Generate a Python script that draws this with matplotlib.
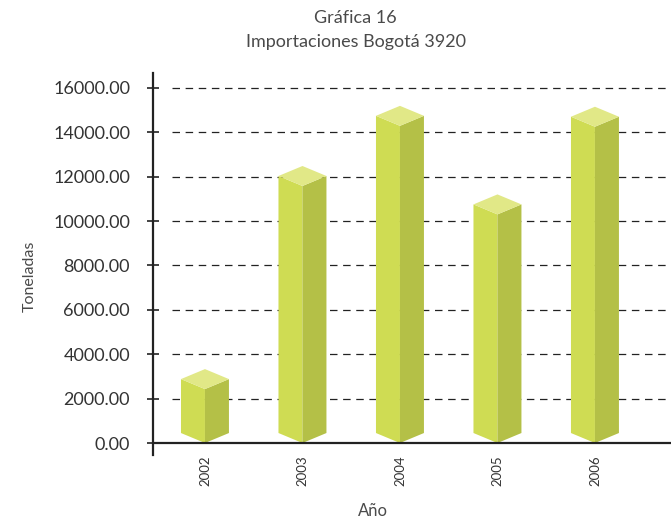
import matplotlib
matplotlib.use("Agg")
import matplotlib.pyplot as plt
from matplotlib.patches import Polygon
from matplotlib.ticker import FuncFormatter

# data (height of the front edge of each prism)
years = ["2002", "2003", "2004", "2005", "2006"]
toneladas = [2430, 11580, 14290, 10300, 14250]
yticks = [0, 2000, 4000, 6000, 8000, 10000, 12000, 14000, 16000]

c_left = "#cfdc53"
c_right = "#b4c047"
c_top = "#e1e887"
txt = "#333333"
lbl = "#4a4a4a"

plt.rcParams['font.family'] = ['Lato', 'DejaVu Sans']

fig = plt.figure(figsize=(6.71, 5.25), dpi=100)
ax = fig.add_axes([153/671, 70/525, 518/671, 382/525])

ax.set_xlim(-0.533, 4.78)
ax.set_ylim(-540, 16670)

hw = 0.246   # half width of a prism, in x units
dz = 450     # isometric offset, in y units
for i, v in enumerate(toneladas):
    left = Polygon([(i - hw, dz), (i, 0), (i, v), (i - hw, v + dz)],
                   closed=True, fc=c_left, ec="none", zorder=3)
    right = Polygon([(i, 0), (i + hw, dz), (i + hw, v + dz), (i, v)],
                    closed=True, fc=c_right, ec="none", zorder=3)
    top = Polygon([(i, v), (i - hw, v + dz), (i, v + 2 * dz), (i + hw, v + dz)],
                  closed=True, fc=c_top, ec="none", zorder=3)
    ax.add_patch(left)
    ax.add_patch(right)
    ax.add_patch(top)

# dashed grid
for t in yticks[1:]:
    ax.axhline(t, xmin=0.037, xmax=1, color="#222222", lw=0.9,
               dashes=(6, 4.5), zorder=1)
ax.axhline(0, color="#222222", lw=1.6, zorder=4)

for s in ["top", "right", "bottom"]:
    ax.spines[s].set_visible(False)
ax.spines["left"].set_color("#222222")
ax.spines["left"].set_linewidth(1.6)

ax.set_yticks(yticks)
ax.yaxis.set_major_formatter(FuncFormatter(lambda y, p: "%.2f" % y))
ax.tick_params(axis="y", direction="inout", length=9, width=1.2,
               color="#222222", pad=12, labelsize=13, labelcolor=txt)

ax.set_xticks(range(len(years)))
ax.set_xticklabels(years, rotation=90)
ax.tick_params(axis="x", length=0, pad=0, labelsize=9.5, labelcolor=txt)

ax.set_ylabel("Toneladas", fontsize=11.5, color=lbl)
ax.yaxis.set_label_coords(-0.224, 0.469)
ax.set_xlabel("Año", fontsize=12, color=lbl)
ax.xaxis.set_label_coords(0.425, -0.126)

fig.text(0.53, 1 - 18/525, "Gráfica 16", ha="center", va="center",
         fontsize=13, color=lbl)
fig.text(0.53, 1 - 42/525, "Importaciones Bogotá 3920", ha="center", va="center",
         fontsize=13, color=lbl)

fig.savefig("out.png", dpi=100)
